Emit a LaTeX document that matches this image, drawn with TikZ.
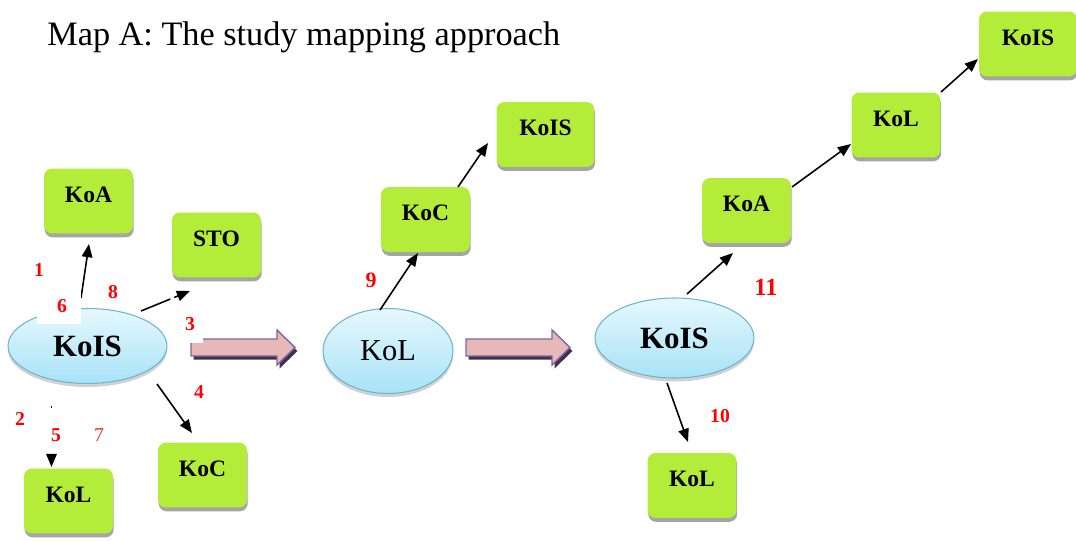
\documentclass[tikz,border=0pt]{standalone}
\usepackage{fontspec}
\setmainfont{Liberation Serif}
\usetikzlibrary{arrows.meta,shadows,calc,shapes.geometric}

\definecolor{boxgreen}{RGB}{180,236,58}
\definecolor{boxshadow}{RGB}{165,165,165}
\definecolor{bubbletop}{RGB}{230,248,254}
\definecolor{bubblebot}{RGB}{168,226,246}
\definecolor{bubbleedge}{RGB}{110,180,205}
\definecolor{arrowfill}{RGB}{230,185,184}
\definecolor{arrowedge}{RGB}{128,100,162}
\definecolor{arrowshadow}{RGB}{63,49,81}
\definecolor{numred}{RGB}{255,0,0}

\begin{document}
\begin{tikzpicture}[x=0.02cm,y=-0.02cm,
  box/.style={fill=boxgreen, rounded corners=0.16cm,
    minimum width=1.78cm, minimum height=1.30cm, inner sep=0pt,
    font=\fontsize{13.4}{15}\selectfont\bfseries,
    text height=10pt, text depth=8.7pt,
    drop shadow={shadow xshift=0.4pt, shadow yshift=-2.2pt, fill=boxshadow, opacity=1}},
  widebox/.style={box, minimum width=1.96cm},
  bubble/.style={ellipse, draw=bubbleedge, line width=0.6pt,
    top color=bubbletop, bottom color=bubblebot, inner sep=0pt,
    drop shadow={shadow xshift=0pt, shadow yshift=-2pt, fill=black!30, opacity=0.6}},
  conn/.style={line width=0.9pt, -{Triangle[length=7.5pt,width=6pt]}},
  num/.style={text=numred, inner sep=0pt, font=\fontsize{11.2}{13}\selectfont\bfseries},
  bigarrow/.pic={
    \fill[arrowshadow] (2.5,-5) -- (88.5,-5) -- (88.5,-14) -- (106.5,3.5)
      -- (88.5,21) -- (88.5,12) -- (2.5,12) -- cycle;
    \draw[draw=arrowedge, fill=arrowfill, line width=0.8pt, line join=miter]
      (0,-8.5) -- (86,-8.5) -- (86,-17.5) -- (104,0) -- (86,17.5)
      -- (86,8.5) -- (0,8.5) -- cycle;
  }
]
\useasboundingbox (0,0) rectangle (1076,541);

% title
\node[anchor=base west, inner sep=0pt, font=\fontsize{19.5}{22}\selectfont]
  (title) at (47,46) {Map A: The study mapping approach};

% first stage
\node[box] (koa1) at (88.5,201) {KoA};
\node[box] (sto)  at (216.5,245) {STO};
\node[box] (kol1) at (68.5,501) {KoL};
\node[box] (koc1) at (202.5,475) {KoC};
\node[bubble, minimum width=3.18cm, minimum height=1.50cm,
  font=\fontsize{17.6}{20}\selectfont\bfseries] (kois1) at (87.5,346) {KoIS};

% second stage
\node[box] (koc2) at (425.5,219.5) {KoC};
\node[widebox] (kisM) at (545.5,134.5) {KoIS};
\node[bubble, minimum width=2.60cm, minimum height=1.70cm,
  font=\fontsize{17.3}{20}\selectfont] (kolE) at (388,351) {KoL};

% third stage
\node[box] (koa2) at (746.5,210.5) {KoA};
\node[box] (kol2) at (896,125) {KoL};
\node[widebox] (kis3) at (1028,44) {KoIS};
\node[box] (kol3) at (692,485.5) {KoL};
\node[bubble, minimum width=3.18cm, minimum height=1.60cm,
  font=\fontsize{17.6}{20}\selectfont\bfseries] (kois2) at (674.5,338) {KoIS};

% transition arrows between stages
\pic at (191,347.5) {bigarrow};
\pic at (466,347.5) {bigarrow};

% connectors
\draw[conn] ($(kois1)+(-6.5,-48)$) -- ($(koa1)+(0.5,43)$);
\draw[conn, dash pattern=on 18pt off 2.5pt] ($(kois1)+(53.5,-35)$) -- ($(sto)+(-26.5,46)$);
\draw[conn] ($(kois1)+(69.5,38)$) -- ($(koc1)+(-10.5,-42)$);
\draw[conn, dash pattern=on 0.9pt off 40pt] ($(kol1)+(-17,-95)$) -- ($(kol1)+(-17,-34)$);
\draw[conn] ($(kolE)+(-8,-41)$) -- ($(koc2)+(-7.5,33.5)$);
\draw[conn] ($(koc2)+(32.5,-32.5)$) -- ($(kisM)+(-57.5,8.5)$);
\draw[conn] ($(kois2)+(12.5,-44)$) -- ($(koa2)+(-13.5,42.5)$);
\draw[conn] ($(koa2)+(45.5,-23.5)$) -- ($(kol2)+(-45,19)$);
\draw[conn] ($(kol2)+(45,-33)$) -- ($(kis3)+(-50,15)$);
\draw[conn] ($(kois2)+(-7.5,45)$) -- ($(kol3)+(-4,-43.5)$);

% white backing of labels 6 and 3
\fill[white] (37,288) rectangle (81,324);
\fill[white] (188,312) rectangle (203,342.5);

% step numbers
\node[num] (n1) at (39,270) {1};
\node[num] (n6) at (62,306) {6};
\node[num] (n8) at (113,292) {8};
\node[num] (n3) at (190,324) {3};
\node[num] (n4) at (199,392) {4};
\node[num] (n2) at (20,419) {2};
\node[num] (n5) at (56,435) {5};
\node[num, font=\fontsize{11.2}{13}\selectfont, text=numred!85] (n7) at (99,435) {7};
\node[num, font=\fontsize{12.5}{14}\selectfont\bfseries] (n9) at (371,280) {9};
\node[num, font=\fontsize{14}{16}\selectfont\bfseries] (n11) at (766,287) {11};
\node[num] (n10) at (720,416) {10};
\end{tikzpicture}
\end{document}
